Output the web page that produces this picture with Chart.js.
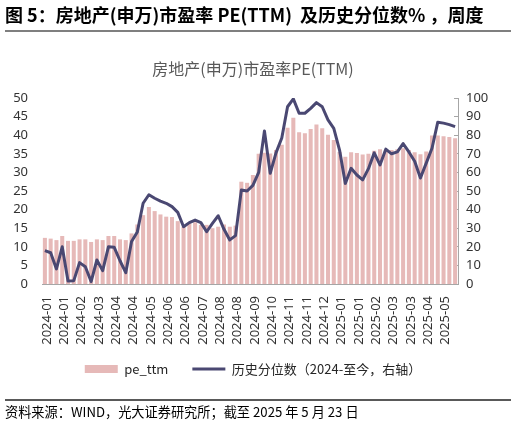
<!DOCTYPE html>
<html><head><meta charset="utf-8">
<script src="https://cdn.jsdelivr.net/npm/chart.js@4.4.1/dist/chart.umd.min.js"></script>
<style>
html,body{margin:0;padding:0;background:#fff;}
#wrap{position:relative;width:516px;height:422px;overflow:hidden;background:#fff;}
#c{position:absolute;left:0;top:0;}
.hdr{position:absolute;left:5px;top:3px;font-family:'Noto Sans CJK SC';font-weight:bold;font-size:18px;color:#000;line-height:22px;white-space:pre;}
.rule1{position:absolute;left:5px;top:30px;width:506px;height:2px;background:#7f7f7f;}
.rule2{position:absolute;left:5px;top:399px;width:506px;height:1.5px;background:#595959;}
.src{position:absolute;left:5px;top:403px;font-family:'Noto Sans CJK SC';font-size:13.2px;color:#000;line-height:17px;white-space:nowrap;}
</style></head><body>
<div id="wrap">
<canvas id="c" width="516" height="422"></canvas>
<div class="hdr">图 5：房地产(申万)市盈率 PE(TTM)  及历史分位数% ，周度</div>
<div class="rule1"></div>
<div class="rule2"></div>
<div class="src">资料来源：WIND，光大证券研究所；截至 2025 年 5 月 23 日</div>
</div>
<script>
const chartTitle = '房地产(申万)市盈率PE(TTM)';
const seriesNames = ['pe_ttm', '历史分位数（2024-至今，右轴）'];
const dates = ['2024-01-05','2024-01-12','2024-01-19','2024-01-26','2024-02-02','2024-02-08','2024-02-23','2024-03-01','2024-03-08','2024-03-15','2024-03-22','2024-03-29','2024-04-03','2024-04-12','2024-04-19','2024-04-26','2024-04-30','2024-05-10','2024-05-17','2024-05-24','2024-05-31','2024-06-07','2024-06-14','2024-06-21','2024-06-28','2024-07-05','2024-07-12','2024-07-19','2024-07-26','2024-08-02','2024-08-09','2024-08-16','2024-08-23','2024-08-30','2024-09-06','2024-09-13','2024-09-20','2024-09-27','2024-09-30','2024-10-11','2024-10-18','2024-10-25','2024-11-01','2024-11-08','2024-11-15','2024-11-22','2024-11-29','2024-12-06','2024-12-13','2024-12-20','2024-12-27','2025-01-03','2025-01-10','2025-01-17','2025-01-24','2025-01-27','2025-02-07','2025-02-14','2025-02-21','2025-02-28','2025-03-07','2025-03-14','2025-03-21','2025-03-28','2025-04-03','2025-04-11','2025-04-18','2025-04-25','2025-04-30','2025-05-09','2025-05-16','2025-05-23'];
const peTTM = [12.4,12.2,11.8,12.9,11.6,11.6,12.0,12.0,11.3,12.0,11.8,12.9,12.9,12.0,11.8,13.6,16.0,18.5,20.7,19.6,18.7,18.1,18.0,16.9,15.4,16.3,16.6,15.9,15.9,15.0,15.4,16.0,15.4,15.7,27.5,27.2,29.3,35.0,35.3,35.1,36.0,37.4,42.0,44.7,40.8,40.5,41.7,42.9,41.9,40.1,38.7,35.5,34.2,35.4,35.2,34.8,35.0,35.8,36.2,35.8,36.0,36.2,36.5,36.0,35.4,34.9,35.6,39.9,39.9,39.7,39.5,39.2];
const percentile = [17.9,16.8,8.1,20,1.6,1.8,11.5,9.3,1.3,12.9,7.2,20,19.7,12.5,6.1,22.8,28,43.4,48.0,46.1,44.6,43.4,41.6,38.5,30.8,33,34.4,33,28.1,32.6,36.7,29.4,23.7,26,50.5,50,53,60,82.3,59.5,70.5,78.5,95.3,99.5,91.8,91.8,94.4,97.5,95.3,88.2,83.7,72,54.1,62.2,58.6,56,62,70.5,64,72.5,70,71,75.5,71,66,57,65,73,87,86.5,85.7,84.6];
const tickEvery = 3;
const leftAxis = {min: 0, max: 50, step: 5};
const rightAxis = {min: 0, max: 100, step: 10};

const barColor = '#E6B9B8';
const lineColor = '#4A4872';
const axisColor = '#a6a6a6';
const tickColor = '#333333';
const tickFont = {family: "'Noto Sans', 'DejaVu Sans'", size: 13};
const cjkFont = "'Noto Sans CJK SC', 'Noto Sans', sans-serif";

// category scale whose rotated tick labels may extend past the axis box
class CategoryNoClip extends Chart.CategoryScale {
  _computeLabelArea() { return undefined; }
}
CategoryNoClip.id = 'categoryNoClip';
CategoryNoClip.defaults = Chart.CategoryScale.defaults;
Chart.register(CategoryNoClip);

new Chart(document.getElementById('c'), {
  data: {
    labels: dates,
    datasets: [
      {type: 'bar', label: seriesNames[0], data: peTTM, yAxisID: 'y', backgroundColor: barColor,
       categoryPercentage: 1, barPercentage: 0.7, order: 2},
      {type: 'line', label: seriesNames[1], data: percentile, yAxisID: 'y1', borderColor: lineColor,
       borderWidth: 3, pointRadius: 0, tension: 0, borderJoinStyle: 'round', order: 1}
    ]
  },
  options: {
    responsive: false,
    animation: false,
    layout: {padding: {left: 0, right: 10, top: 0, bottom: 36.5}},
    plugins: {
      tooltip: {enabled: false},
      title: {display: true, text: chartTitle, color: '#595959',
        font: {family: cjkFont, size: 16, weight: 'normal'}, padding: {top: 58.9, bottom: 19.9}},
      legend: {position: 'bottom',
        labels: {usePointStyle: true, pointStyleWidth: 33, boxHeight: 8, padding: 24, color: '#262626',
          font: {family: cjkFont, size: 13},
          generateLabels: () => [
            {text: seriesNames[0], fillStyle: barColor, strokeStyle: barColor, lineWidth: 0, pointStyle: 'rect', datasetIndex: 0, fontColor: '#262626'},
            {text: seriesNames[1], fillStyle: lineColor, strokeStyle: lineColor, lineWidth: 3, pointStyle: 'line', datasetIndex: 1, fontColor: '#262626'}
          ]}}
    },
    scales: {
      x: {
        type: 'categoryNoClip',
        offset: true,
        grid: {display: false, drawTicks: false, offset: true},
        border: {display: true, color: axisColor, width: 1},
        ticks: {autoSkip: false, maxRotation: 90, minRotation: 90, padding: 12, labelOffset: 2, color: tickColor, font: tickFont,
          callback: (v, i) => (i % tickEvery === 0 ? dates[i].slice(0, 7) : null)},
        afterFit: s => { s.height = 54.5; }
      },
      y: {
        type: 'linear', position: 'left', min: leftAxis.min, max: leftAxis.max,
        ticks: {stepSize: leftAxis.step, padding: 14, color: tickColor, font: tickFont},
        grid: {display: false, drawTicks: false},
        border: {display: false},
        afterFit: s => { s.width = 42; }
      },
      y1: {
        type: 'linear', position: 'right', min: rightAxis.min, max: rightAxis.max,
        ticks: {stepSize: rightAxis.step, padding: 12, color: tickColor, font: tickFont},
        grid: {display: true, drawOnChartArea: false, drawTicks: true, tickLength: -4, color: axisColor},
        border: {display: true, color: axisColor, width: 1},
        afterFit: s => { s.width = 48; }
      }
    }
  }
});
</script>
</body></html>
